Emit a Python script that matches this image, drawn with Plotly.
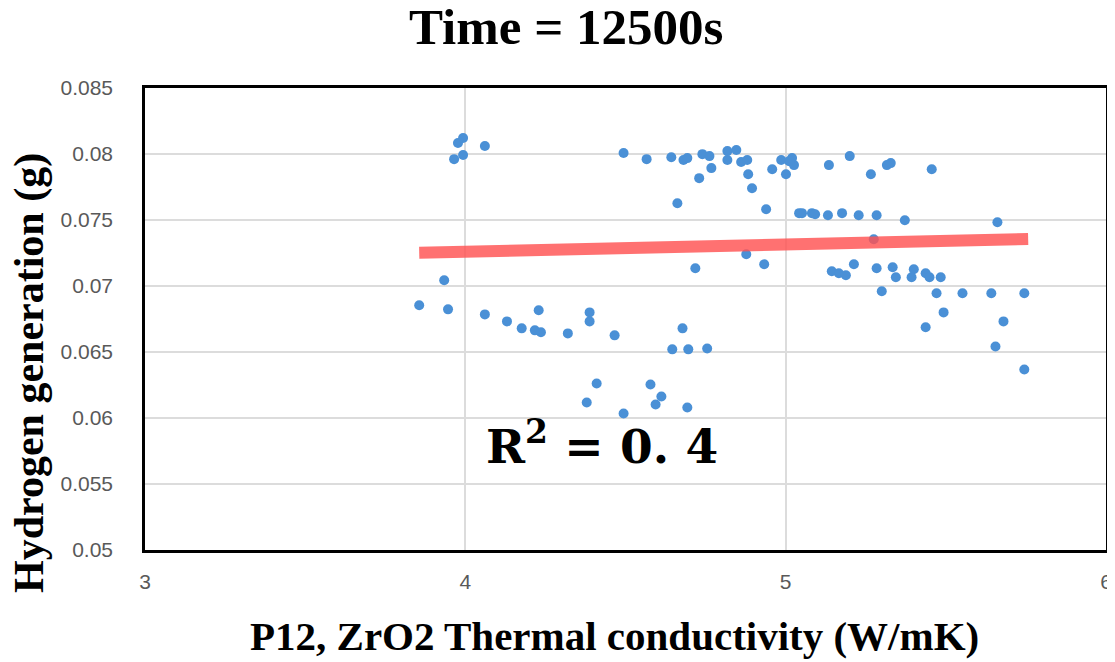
import plotly.graph_objects as go

# Scatter data: P12 ZrO2 thermal conductivity (W/mK) vs hydrogen generation (g)
conductivity = [
    3.856, 3.934, 3.946, 3.965, 3.993, 3.977, 3.993, 4.061, 4.061, 4.130,
    4.176, 4.217, 4.236, 4.229, 4.320, 4.388, 4.388, 4.466, 4.646, 4.678,
    4.696, 4.755, 4.410, 4.379, 4.494, 4.578, 4.612, 4.594, 4.693, 4.494,
    4.566, 4.643, 4.681, 4.693, 4.740, 4.762, 4.768, 4.730, 4.662, 4.818,
    4.846, 4.818, 4.861, 4.880, 4.883, 4.895, 4.939, 4.958, 4.986, 5.001,
    5.020, 5.026, 5.011, 5.135, 5.200, 5.266, 5.316, 5.328, 5.456, 5.042,
    5.051, 5.082, 5.092, 5.132, 5.176, 5.228, 5.284, 5.372, 5.661, 5.275,
    4.877, 4.933, 4.718, 5.144, 5.166, 5.188, 5.213, 5.284, 5.334, 5.344,
    5.400, 5.393, 5.437, 5.449, 5.484, 5.300, 5.471, 5.552, 5.642, 5.745,
    5.493, 5.437, 5.680, 5.655, 5.745,
]
hydrogen = [
    0.06854, 0.07043, 0.06823, 0.07961, 0.07992, 0.08083, 0.08121, 0.08060, 0.06785, 0.06732,
    0.06679, 0.06664, 0.06649, 0.06816, 0.06641, 0.06800, 0.06732, 0.06626, 0.06520, 0.06679,
    0.06520, 0.06527, 0.06262, 0.06118, 0.06034, 0.06254, 0.06163, 0.06102, 0.06080, 0.08007,
    0.07961, 0.07976, 0.07954, 0.07969, 0.07999, 0.07984, 0.07893, 0.07817, 0.07627, 0.08022,
    0.08030, 0.07954, 0.07939, 0.07954, 0.07847, 0.07741, 0.07582, 0.07885, 0.07954, 0.07847,
    0.07969, 0.07916, 0.07946, 0.07916, 0.07984, 0.07847, 0.07916, 0.07931, 0.07885, 0.07552,
    0.07552, 0.07552, 0.07544, 0.07536, 0.07552, 0.07536, 0.07536, 0.07498, 0.07483, 0.07354,
    0.07240, 0.07165, 0.07134, 0.07112, 0.07096, 0.07081, 0.07165, 0.07134, 0.07142, 0.07066,
    0.07127, 0.07066, 0.07096, 0.07066, 0.07066, 0.06960, 0.06945, 0.06945, 0.06945, 0.06945,
    0.06800, 0.06687, 0.06732, 0.06542, 0.06368,
]

# Linear trend line end points
trend_x = [3.856, 5.757]
trend_y = [0.07252, 0.07356]

x_ticks = [3, 4, 5, 6]
y_ticks = [0.05, 0.055, 0.06, 0.065, 0.07, 0.075, 0.08, 0.085]
y_tick_text = ["0.05", "0.055", "0.06", "0.065", "0.07", "0.075", "0.08", "0.085"]

fig = go.Figure()
fig.add_trace(go.Scatter(
    x=conductivity, y=hydrogen, mode="markers",
    marker=dict(color="#4A90D6", size=10, line=dict(width=0)),
    showlegend=False, hoverinfo="x+y",
))
fig.add_trace(go.Scatter(
    x=trend_x, y=trend_y, mode="lines",
    line=dict(color="rgba(255,82,82,0.82)", width=12),
    showlegend=False, hoverinfo="skip",
))

tick_font = dict(family="Liberation Sans Narrow, Liberation Sans, Arial", size=21, color="#595959")
serif_bold = "Liberation Serif, Times New Roman, serif"

# the page body adds an 8px offset; margins are set so the plot lands where the reference has it
L, T = 137, 80
W, H = 1115, 662
pw, ph = 961, 462
R, B = W - L - pw, H - T - ph

fig.update_layout(
    width=W, height=H,
    margin=dict(l=L, r=R, t=T, b=B, autoexpand=False),
    paper_bgcolor="white", plot_bgcolor="white",
    xaxis=dict(
        range=[3, 6], tickvals=x_ticks, ticktext=[str(v) for v in x_ticks],
        showgrid=True, gridcolor="#DCDCDC", gridwidth=1.5,
        showline=True, linecolor="black", linewidth=2.5, mirror=True,
        ticks="", tickfont=tick_font, ticklabelstandoff=11, zeroline=False,
        automargin=False,
    ),
    yaxis=dict(
        range=[0.05, 0.085], tickvals=y_ticks, ticktext=y_tick_text,
        showgrid=True, gridcolor="#DCDCDC", gridwidth=1.5,
        showline=True, linecolor="black", linewidth=2.5, mirror=True,
        ticks="", tickfont=tick_font, ticklabelstandoff=25, zeroline=False,
        automargin=False,
    ),
    annotations=[
        dict(text="<b>Time = 12500s</b>", x=(558 - L) / pw, y=1 + (T - 19) / ph,
             xref="paper", yref="paper", yanchor="middle", showarrow=False,
             font=dict(family=serif_bold, size=51, color="black")),
        dict(text="<b>P12, ZrO2 Thermal conductivity (W/mK)</b>", x=(606 - L) / pw,
             y=-(628 - (T + ph)) / ph, xref="paper", yref="paper", yanchor="middle",
             showarrow=False, font=dict(family=serif_bold, size=41, color="black")),
        dict(text="<b>Hydrogen generation (g)</b>", x=-(L - 22) / pw, y=(T + ph - 365) / ph,
             xref="paper", yref="paper", xanchor="center", yanchor="middle",
             textangle=-90, showarrow=False,
             font=dict(family=serif_bold, size=42, color="black")),
        dict(text="<b>R<sup>2</sup> = 0. 4</b>", x=4.426, y=0.0581, xref="x", yref="y",
             yanchor="middle", showarrow=False,
             font=dict(family="DejaVu Serif, Liberation Serif, serif", size=47, color="black")),
    ],
)

fig.write_html("out.html")
